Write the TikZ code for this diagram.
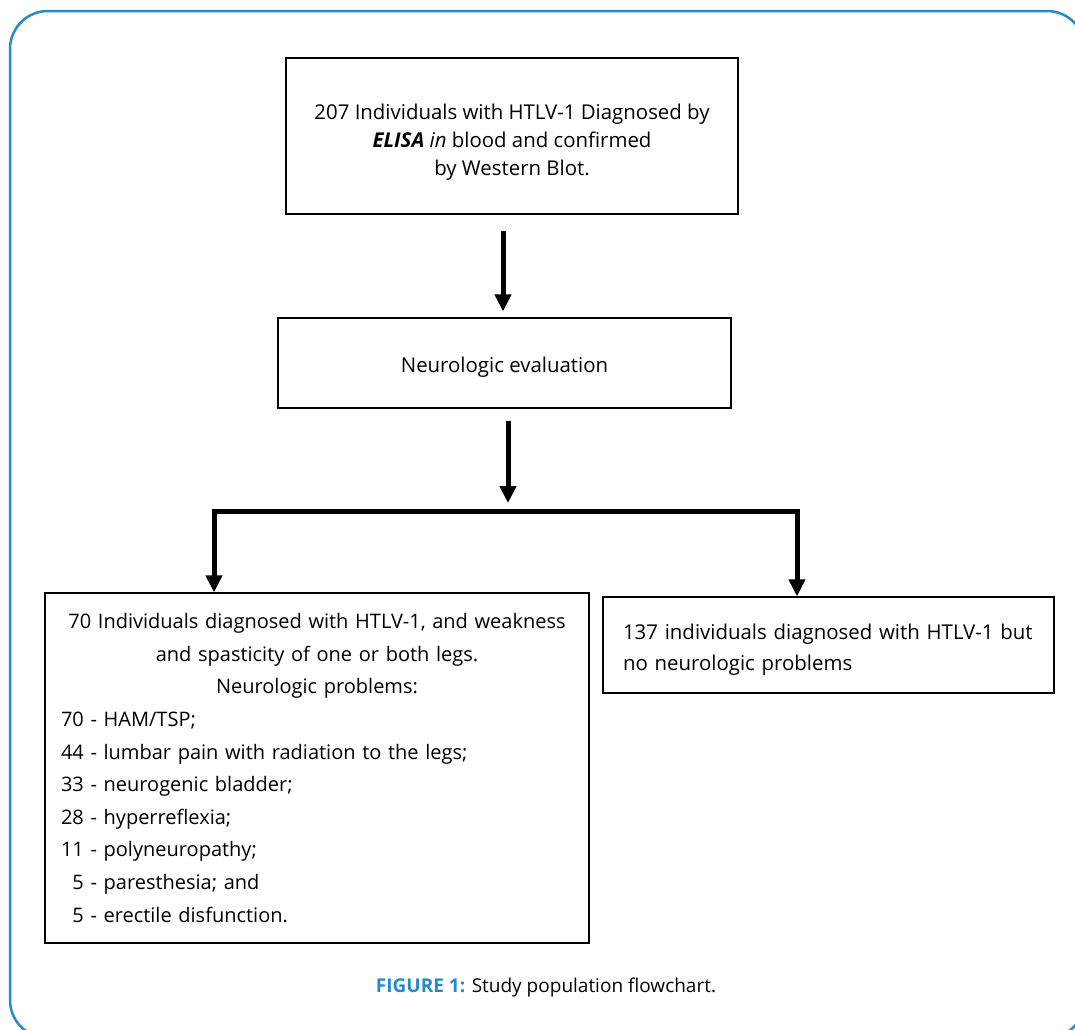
\documentclass[tikz,border=0pt]{standalone}
\usepackage{fontspec}
\setmainfont{Open Sans}
\usepackage{tikz}
\usetikzlibrary{arrows.meta}
\definecolor{figblue}{RGB}{36,138,200}

\begin{document}
\begin{tikzpicture}[x=1pt, y=-1pt, font=\fontsize{20.4}{28}\selectfont]
\tikzstyle{frame}=[draw=figblue, line width=2.5pt, rounded corners=38pt]
\tikzstyle{process} = [rectangle, draw=black, line width=1.3pt, inner sep=0pt, text centered]
\tikzstyle{bar}=[draw, line width=5pt]
\tikzstyle{arrow}=[draw, line width=5pt, -{Triangle[length=17pt, width=16pt]}]

\useasboundingbox (0,0) rectangle (1075,1029);
\draw [frame] (10,11) rectangle (1085,1038);

\node (start) [process, minimum width=452pt, minimum height=156pt, align=center] at (512,136)
  {\rule{0pt}{27pt}207 Individuals with HTLV-1 Diagnosed by\\ \textbf{\textit{ELISA}} \textit{in} blood and confirmed\\ by Western Blot.};
\node (neuro) [process, minimum width=453pt, minimum height=90pt] at (504.5,363) {\rule{0pt}{23.5pt}Neurologic evaluation};
\node (ham) [process, minimum width=544pt, minimum height=350pt, text width=512pt, align=left,
  font=\fontsize{20}{32.6}\selectfont] at (317,768)
  {{\centering 70 Individuals diagnosed with HTLV-1, and weakness\\ and spasticity of one or both legs.\\ Neurologic problems:\par}
   70 - HAM/TSP;\\
   44 - lumbar pain with radiation to the legs;\\
   33 - neurogenic bladder;\\
   28 - hyperreflexia;\\
   11 - polyneuropathy;\\
   \phantom{1}5 - paresthesia; and\\
   \phantom{1}5 - erectile disfunction.};
\node (noneuro) [process, minimum width=451pt, minimum height=96pt, text width=411pt, align=left,
  font=\fontsize{20.4}{31}\selectfont] at (828.5,645)
  {\rule{0pt}{24.5pt}137 individuals diagnosed with HTLV-1 but\\ no neurologic problems};

\node (caption) at (546,987) {\fontsize{19}{22}\selectfont\textcolor{figblue}{\textbf{FIGURE 1:}} Study population flowchart.};

\coordinate (split) at (508,511);
\coordinate (lefttop) at (214,511);
\coordinate (righttop) at (797,511);

\draw [arrow, shorten <=16pt, shorten >=6pt] (start.south -| 503,0) -- (neuro.north -| 503,0);
\draw [arrow, shorten <=12pt, shorten >=8pt] (neuro.south -| split) -- (split);
\draw [bar] ([xshift=-2.5pt]lefttop) -- ([xshift=2.5pt]righttop);
\draw [arrow, shorten <=-2.5pt] (lefttop) -- (ham.north -| lefttop);
\draw [arrow, shorten <=-2.5pt] (righttop) -- (noneuro.north -| righttop);

\end{tikzpicture}
\end{document}
